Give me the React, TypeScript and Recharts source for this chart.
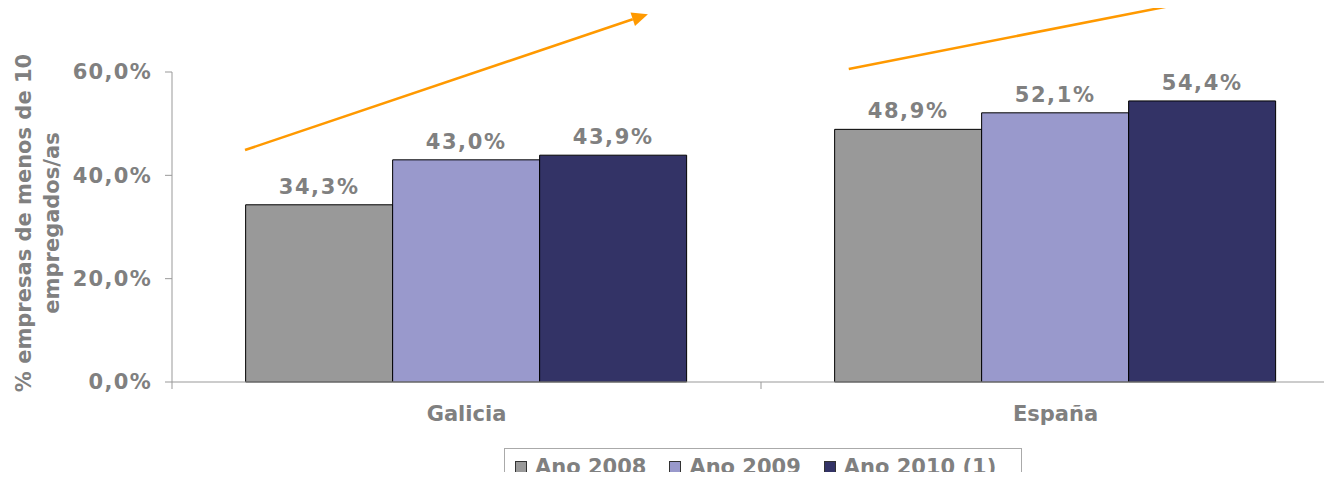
import { Bar, BarChart, LabelList, XAxis, YAxis } from 'recharts';

const categories = ['Galicia', 'España'];
const seriesNames = ['Ano 2008', 'Ano 2009', 'Ano 2010 (1)'];
const seriesKeys = ['a2008', 'a2009', 'a2010'];
const seriesColors = ['#999999', '#9999cc', '#333366'];
const ano2008 = [34.3, 48.9];
const ano2009 = [43.0, 52.1];
const ano2010 = [43.9, 54.4];
const yTicks = [0, 20, 40, 60];
const sideNote = ['e', 'l', 'F', 'p'];

// trend arrows in (position along the category axis, value) units;
// the second one runs off the top of the picture, so its head is not shown
const arrows = [
  { x1: 0.124, y1: 44.9, x2: 0.808, y2: 71.2, head: true },
  { x1: 1.149, y1: 60.6, x2: 1.74, y2: 73.8, head: false },
];

// slot = centre of each category on a 0..n numeric axis (used for the axis ticks)
const data = categories.map((region, i) => ({
  region,
  slot: i + 0.5,
  a2008: ano2008[i],
  a2009: ano2009[i],
  a2010: ano2010[i],
}));

const FONT = '"DejaVu Sans", Verdana, sans-serif';
const GREY = '#808080';
const AXIS = '#999999';

// chart geometry
const W = 1360;
const H = 500;
const M = { top: 72, right: 10, left: 0, bottom: 58 };
const Y_W = 172;
const X_H = 60;
const Y_MAX = 60;
const plotL = M.left + Y_W;
const plotR = W - M.right;
const plotT = M.top;
const plotB = H - M.bottom - X_H;
const sx = (v: number) => plotL + (v / categories.length) * (plotR - plotL);
const sy = (v: number) => plotB - (v / Y_MAX) * (plotB - plotT);

const pct = (v: number) => `${v.toFixed(1).replace('.', ',')}%`;

function CategoryTick(props: any) {
  const { x, y, payload } = props;
  const v = payload.value as number;
  if (Number.isInteger(v)) {
    return <line x1={x} y1={y} x2={x} y2={y + 7} stroke={AXIS} />;
  }
  return (
    <text x={x} y={y + 38.5} textAnchor="middle" fill={GREY} fontSize={21} fontWeight="bold" fontFamily={FONT}>
      {categories[Math.floor(v)]}
    </text>
  );
}

function Arrow({ a }: { a: (typeof arrows)[number] }) {
  const x1 = sx(a.x1);
  const y1 = sy(a.y1);
  const x2 = sx(a.x2);
  const y2 = sy(a.y2);
  const ang = Math.atan2(y2 - y1, x2 - x1);
  if (!a.head) {
    const ex = x2 + 15 * Math.cos(ang);
    const ey = y2 + 15 * Math.sin(ang);
    return <line x1={x1} y1={y1} x2={ex} y2={ey} stroke="#ff9900" strokeWidth={2.5} />;
  }
  const len = 16;
  const half = 7;
  const bx = x2 - len * Math.cos(ang);
  const by = y2 - len * Math.sin(ang);
  const px = -Math.sin(ang) * half;
  const py = Math.cos(ang) * half;
  return (
    <g>
      <line x1={x1} y1={y1} x2={bx} y2={by} stroke="#ff9900" strokeWidth={2.5} />
      <polygon points={`${x2},${y2} ${bx + px},${by + py} ${bx - px},${by - py}`} fill="#ff9900" />
    </g>
  );
}

function YTitle() {
  const cy = 223;
  return (
    <g fill={GREY} fontSize={21} fontWeight="bold" fontFamily={FONT}>
      <text x={31} y={cy} textAnchor="middle" transform={`rotate(-90, 31, ${cy})`}>
        % empresas de menos de 10
      </text>
      <text x={59} y={cy} textAnchor="middle" transform={`rotate(-90, 59, ${cy})`}>
        empregados/as
      </text>
    </g>
  );
}

export default function App() {
  return (
    <div style={{ position: 'relative', margin: -8, width: 1332, height: 480, overflow: 'hidden', background: '#fff' }}>
      <BarChart width={W} height={H} data={data} margin={M} barCategoryGap="12.5%" barGap={0}>
        <XAxis xAxisId="cat" dataKey="region" hide height={0} />
        <XAxis
          xAxisId="num"
          dataKey="slot"
          type="number"
          domain={[0, categories.length]}
          allowDataOverflow
          ticks={[0, 0.5, 1, 1.5, 2]}
          interval={0}
          height={X_H}
          tickSize={0}
          tickMargin={0}
          tickLine={false}
          axisLine={{ stroke: AXIS }}
          tick={<CategoryTick />}
        />
        <YAxis
          width={Y_W}
          domain={[0, Y_MAX]}
          ticks={yTicks}
          tickFormatter={pct}
          tickSize={7}
          tickMargin={13}
          axisLine={{ stroke: AXIS }}
          tickLine={{ stroke: AXIS }}
          tick={{ fill: GREY, fontSize: 21, fontWeight: 'bold', fontFamily: FONT, letterSpacing: 1.3 }}
          label={{ content: <YTitle /> }}
        />
        {seriesKeys.map((key, i) => (
          <Bar
            key={key}
            xAxisId="cat"
            dataKey={key}
            name={seriesNames[i]}
            fill={seriesColors[i]}
            stroke="#000"
            strokeWidth={1}
            isAnimationActive={false}
          >
            <LabelList
              dataKey={key}
              position="top"
              offset={11}
              formatter={(v: any) => pct(Number(v))}
              fill={GREY}
              fontSize={21}
              fontWeight="bold"
              fontFamily={FONT}
              letterSpacing={1.6}
            />
          </Bar>
        ))}
      </BarChart>

      <svg style={{ position: 'absolute', left: 0, top: 0, pointerEvents: 'none', overflow: 'visible' }} width={1332} height={160}>
        {arrows.map((a, i) => (
          <Arrow key={i} a={a} />
        ))}
        {sideNote.map((t, i) => (
          <text key={i} x={1326} y={9 + i * 29} fill={GREY} fontSize={20} fontFamily={FONT}>
            {t}
          </text>
        ))}
      </svg>

      <div
        style={{
          position: 'absolute',
          left: 504,
          top: 448,
          width: 518,
          height: 40,
          boxSizing: 'border-box',
          border: '1px solid #aaaaaa',
          display: 'flex',
          alignItems: 'flex-start',
          paddingTop: 6,
          paddingLeft: 10,
          fontFamily: FONT,
          fontSize: 21,
          fontWeight: 'bold',
          color: GREY,
          lineHeight: '24px',
          whiteSpace: 'nowrap',
        }}
      >
        {seriesNames.map((name, i) => (
          <div key={name} style={{ display: 'flex', alignItems: 'center', height: 24, marginRight: 23 }}>
            <span
              style={{
                display: 'inline-block',
                width: 10,
                height: 10,
                background: seriesColors[i],
                border: '1px solid #333',
                marginRight: 8,
              }}
            />
            <span>{name}</span>
          </div>
        ))}
      </div>
    </div>
  );
}
